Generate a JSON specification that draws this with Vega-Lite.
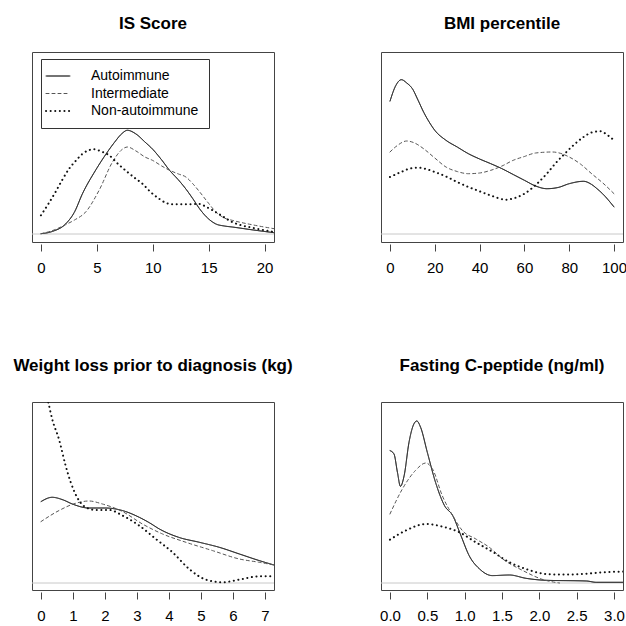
{
  "$schema": "https://vega.github.io/schema/vega-lite/v6.json",
  "background": "white",
  "padding": {"left": 12, "top": 14, "right": 0, "bottom": 0},
  "config": {
    "view": {"stroke": "#444", "strokeWidth": 1},
    "font": "Liberation Sans",
    "title": {"fontSize": 17, "fontWeight": "bold", "color": "#000", "baseline": "alphabetic", "anchor": "middle", "font": "Liberation Sans"},
    "axis": {"domain": false, "grid": false, "ticks": true, "tickColor": "#444", "tickSize": 7, "offset": 2, "labelFontSize": 15, "labelColor": "#000", "labelPadding": 9, "labelFont": "Liberation Sans", "labelFlush": false, "labelOverlap": false, "title": null}
  },
  "data": {"values": [
    {"panel": "IS", "group": "Autoimmune", "x": 0, "y": 0.3},
    {"panel": "IS", "group": "Autoimmune", "x": 1, "y": 2.5},
    {"panel": "IS", "group": "Autoimmune", "x": 2.2, "y": 10},
    {"panel": "IS", "group": "Autoimmune", "x": 3, "y": 22},
    {"panel": "IS", "group": "Autoimmune", "x": 3.7, "y": 40},
    {"panel": "IS", "group": "Autoimmune", "x": 4.9, "y": 64},
    {"panel": "IS", "group": "Autoimmune", "x": 5.64, "y": 77},
    {"panel": "IS", "group": "Autoimmune", "x": 6.6, "y": 92},
    {"panel": "IS", "group": "Autoimmune", "x": 7.2, "y": 100},
    {"panel": "IS", "group": "Autoimmune", "x": 7.73, "y": 103.7},
    {"panel": "IS", "group": "Autoimmune", "x": 8.5, "y": 100},
    {"panel": "IS", "group": "Autoimmune", "x": 9.3, "y": 92},
    {"panel": "IS", "group": "Autoimmune", "x": 9.97, "y": 85},
    {"panel": "IS", "group": "Autoimmune", "x": 10.8, "y": 74},
    {"panel": "IS", "group": "Autoimmune", "x": 11.5, "y": 63.7},
    {"panel": "IS", "group": "Autoimmune", "x": 12.3, "y": 54},
    {"panel": "IS", "group": "Autoimmune", "x": 12.96, "y": 45},
    {"panel": "IS", "group": "Autoimmune", "x": 13.6, "y": 35},
    {"panel": "IS", "group": "Autoimmune", "x": 14.2, "y": 25},
    {"panel": "IS", "group": "Autoimmune", "x": 14.9, "y": 16},
    {"panel": "IS", "group": "Autoimmune", "x": 15.65, "y": 10},
    {"panel": "IS", "group": "Autoimmune", "x": 16.4, "y": 8},
    {"panel": "IS", "group": "Autoimmune", "x": 17.1, "y": 7},
    {"panel": "IS", "group": "Autoimmune", "x": 19, "y": 4},
    {"panel": "IS", "group": "Autoimmune", "x": 20.85, "y": 1.3},
    {"panel": "IS", "group": "Intermediate", "x": 0, "y": 0.3},
    {"panel": "IS", "group": "Intermediate", "x": 1, "y": 3.3},
    {"panel": "IS", "group": "Intermediate", "x": 2.2, "y": 9.3},
    {"panel": "IS", "group": "Intermediate", "x": 3, "y": 14},
    {"panel": "IS", "group": "Intermediate", "x": 4, "y": 22},
    {"panel": "IS", "group": "Intermediate", "x": 5.2, "y": 43.7},
    {"panel": "IS", "group": "Intermediate", "x": 6.4, "y": 72},
    {"panel": "IS", "group": "Intermediate", "x": 7.2, "y": 84},
    {"panel": "IS", "group": "Intermediate", "x": 7.73, "y": 87},
    {"panel": "IS", "group": "Intermediate", "x": 8.5, "y": 83},
    {"panel": "IS", "group": "Intermediate", "x": 9.3, "y": 77},
    {"panel": "IS", "group": "Intermediate", "x": 9.97, "y": 73.7},
    {"panel": "IS", "group": "Intermediate", "x": 10.8, "y": 68},
    {"panel": "IS", "group": "Intermediate", "x": 11.5, "y": 63.7},
    {"panel": "IS", "group": "Intermediate", "x": 12.3, "y": 60},
    {"panel": "IS", "group": "Intermediate", "x": 12.96, "y": 57},
    {"panel": "IS", "group": "Intermediate", "x": 13.6, "y": 50},
    {"panel": "IS", "group": "Intermediate", "x": 14.2, "y": 42},
    {"panel": "IS", "group": "Intermediate", "x": 14.9, "y": 32},
    {"panel": "IS", "group": "Intermediate", "x": 15.65, "y": 22},
    {"panel": "IS", "group": "Intermediate", "x": 16.4, "y": 16},
    {"panel": "IS", "group": "Intermediate", "x": 17.1, "y": 13.7},
    {"panel": "IS", "group": "Intermediate", "x": 19, "y": 9},
    {"panel": "IS", "group": "Intermediate", "x": 20.85, "y": 5.3},
    {"panel": "IS", "group": "Non-autoimmune", "x": 0, "y": 18.7},
    {"panel": "IS", "group": "Non-autoimmune", "x": 0.6, "y": 29},
    {"panel": "IS", "group": "Non-autoimmune", "x": 1.3, "y": 42},
    {"panel": "IS", "group": "Non-autoimmune", "x": 1.9, "y": 54},
    {"panel": "IS", "group": "Non-autoimmune", "x": 2.5, "y": 65},
    {"panel": "IS", "group": "Non-autoimmune", "x": 3.1, "y": 73},
    {"panel": "IS", "group": "Non-autoimmune", "x": 3.7, "y": 80},
    {"panel": "IS", "group": "Non-autoimmune", "x": 4.2, "y": 83.5},
    {"panel": "IS", "group": "Non-autoimmune", "x": 4.75, "y": 84.7},
    {"panel": "IS", "group": "Non-autoimmune", "x": 5.4, "y": 82.5},
    {"panel": "IS", "group": "Non-autoimmune", "x": 6.1, "y": 78.7},
    {"panel": "IS", "group": "Non-autoimmune", "x": 6.9, "y": 70},
    {"panel": "IS", "group": "Non-autoimmune", "x": 7.73, "y": 62},
    {"panel": "IS", "group": "Non-autoimmune", "x": 8.4, "y": 56},
    {"panel": "IS", "group": "Non-autoimmune", "x": 9.1, "y": 50},
    {"panel": "IS", "group": "Non-autoimmune", "x": 9.8, "y": 42},
    {"panel": "IS", "group": "Non-autoimmune", "x": 10.6, "y": 35},
    {"panel": "IS", "group": "Non-autoimmune", "x": 11.2, "y": 31},
    {"panel": "IS", "group": "Non-autoimmune", "x": 11.8, "y": 29.7},
    {"panel": "IS", "group": "Non-autoimmune", "x": 12.96, "y": 29.7},
    {"panel": "IS", "group": "Non-autoimmune", "x": 14.2, "y": 30},
    {"panel": "IS", "group": "Non-autoimmune", "x": 14.8, "y": 27},
    {"panel": "IS", "group": "Non-autoimmune", "x": 15.35, "y": 23.7},
    {"panel": "IS", "group": "Non-autoimmune", "x": 16.2, "y": 18},
    {"panel": "IS", "group": "Non-autoimmune", "x": 17.1, "y": 12},
    {"panel": "IS", "group": "Non-autoimmune", "x": 19, "y": 6},
    {"panel": "IS", "group": "Non-autoimmune", "x": 20.85, "y": 2},

    {"panel": "BMI", "group": "Autoimmune", "x": 0, "y": 132.7},
    {"panel": "BMI", "group": "Autoimmune", "x": 2.5, "y": 148},
    {"panel": "BMI", "group": "Autoimmune", "x": 5.1, "y": 154.3},
    {"panel": "BMI", "group": "Autoimmune", "x": 7.5, "y": 151},
    {"panel": "BMI", "group": "Autoimmune", "x": 10, "y": 145.3},
    {"panel": "BMI", "group": "Autoimmune", "x": 12.5, "y": 134},
    {"panel": "BMI", "group": "Autoimmune", "x": 15, "y": 122},
    {"panel": "BMI", "group": "Autoimmune", "x": 17.5, "y": 112},
    {"panel": "BMI", "group": "Autoimmune", "x": 20, "y": 103.7},
    {"panel": "BMI", "group": "Autoimmune", "x": 25, "y": 93.7},
    {"panel": "BMI", "group": "Autoimmune", "x": 30, "y": 87},
    {"panel": "BMI", "group": "Autoimmune", "x": 35, "y": 80.3},
    {"panel": "BMI", "group": "Autoimmune", "x": 40, "y": 75},
    {"panel": "BMI", "group": "Autoimmune", "x": 45, "y": 70.3},
    {"panel": "BMI", "group": "Autoimmune", "x": 50, "y": 65.3},
    {"panel": "BMI", "group": "Autoimmune", "x": 55, "y": 59.5},
    {"panel": "BMI", "group": "Autoimmune", "x": 60, "y": 53.7},
    {"panel": "BMI", "group": "Autoimmune", "x": 65, "y": 48},
    {"panel": "BMI", "group": "Autoimmune", "x": 70, "y": 45.3},
    {"panel": "BMI", "group": "Autoimmune", "x": 75, "y": 46.5},
    {"panel": "BMI", "group": "Autoimmune", "x": 80, "y": 50.3},
    {"panel": "BMI", "group": "Autoimmune", "x": 86.4, "y": 52.7},
    {"panel": "BMI", "group": "Autoimmune", "x": 90, "y": 49.5},
    {"panel": "BMI", "group": "Autoimmune", "x": 92.4, "y": 45.3},
    {"panel": "BMI", "group": "Autoimmune", "x": 95, "y": 40},
    {"panel": "BMI", "group": "Autoimmune", "x": 100, "y": 27},
    {"panel": "BMI", "group": "Intermediate", "x": 0, "y": 82},
    {"panel": "BMI", "group": "Intermediate", "x": 3, "y": 88},
    {"panel": "BMI", "group": "Intermediate", "x": 7.5, "y": 93},
    {"panel": "BMI", "group": "Intermediate", "x": 11, "y": 91},
    {"panel": "BMI", "group": "Intermediate", "x": 15, "y": 85.3},
    {"panel": "BMI", "group": "Intermediate", "x": 20, "y": 76},
    {"panel": "BMI", "group": "Intermediate", "x": 25, "y": 67},
    {"panel": "BMI", "group": "Intermediate", "x": 30, "y": 62.5},
    {"panel": "BMI", "group": "Intermediate", "x": 35, "y": 60.3},
    {"panel": "BMI", "group": "Intermediate", "x": 40, "y": 61},
    {"panel": "BMI", "group": "Intermediate", "x": 45, "y": 63.7},
    {"panel": "BMI", "group": "Intermediate", "x": 50, "y": 68},
    {"panel": "BMI", "group": "Intermediate", "x": 55, "y": 73.7},
    {"panel": "BMI", "group": "Intermediate", "x": 60, "y": 77.5},
    {"panel": "BMI", "group": "Intermediate", "x": 65, "y": 81},
    {"panel": "BMI", "group": "Intermediate", "x": 72.5, "y": 82},
    {"panel": "BMI", "group": "Intermediate", "x": 77, "y": 80},
    {"panel": "BMI", "group": "Intermediate", "x": 80, "y": 77},
    {"panel": "BMI", "group": "Intermediate", "x": 85, "y": 70},
    {"panel": "BMI", "group": "Intermediate", "x": 90, "y": 60.3},
    {"panel": "BMI", "group": "Intermediate", "x": 95, "y": 51},
    {"panel": "BMI", "group": "Intermediate", "x": 100, "y": 40.3},
    {"panel": "BMI", "group": "Non-autoimmune", "x": 0, "y": 57},
    {"panel": "BMI", "group": "Non-autoimmune", "x": 5, "y": 62},
    {"panel": "BMI", "group": "Non-autoimmune", "x": 9, "y": 65.5},
    {"panel": "BMI", "group": "Non-autoimmune", "x": 12.6, "y": 66.3},
    {"panel": "BMI", "group": "Non-autoimmune", "x": 16, "y": 65},
    {"panel": "BMI", "group": "Non-autoimmune", "x": 20, "y": 62},
    {"panel": "BMI", "group": "Non-autoimmune", "x": 25, "y": 57.5},
    {"panel": "BMI", "group": "Non-autoimmune", "x": 30, "y": 52},
    {"panel": "BMI", "group": "Non-autoimmune", "x": 35, "y": 47},
    {"panel": "BMI", "group": "Non-autoimmune", "x": 40, "y": 42.7},
    {"panel": "BMI", "group": "Non-autoimmune", "x": 45, "y": 38.5},
    {"panel": "BMI", "group": "Non-autoimmune", "x": 52, "y": 34.3},
    {"panel": "BMI", "group": "Non-autoimmune", "x": 55, "y": 35.5},
    {"panel": "BMI", "group": "Non-autoimmune", "x": 57, "y": 37},
    {"panel": "BMI", "group": "Non-autoimmune", "x": 60, "y": 40.3},
    {"panel": "BMI", "group": "Non-autoimmune", "x": 65, "y": 49},
    {"panel": "BMI", "group": "Non-autoimmune", "x": 70, "y": 60.3},
    {"panel": "BMI", "group": "Non-autoimmune", "x": 74, "y": 71},
    {"panel": "BMI", "group": "Non-autoimmune", "x": 78, "y": 80.3},
    {"panel": "BMI", "group": "Non-autoimmune", "x": 82, "y": 89},
    {"panel": "BMI", "group": "Non-autoimmune", "x": 86.4, "y": 97},
    {"panel": "BMI", "group": "Non-autoimmune", "x": 90, "y": 101.5},
    {"panel": "BMI", "group": "Non-autoimmune", "x": 94, "y": 102.7},
    {"panel": "BMI", "group": "Non-autoimmune", "x": 97, "y": 99},
    {"panel": "BMI", "group": "Non-autoimmune", "x": 100, "y": 93.7},

    {"panel": "WL", "group": "Autoimmune", "x": 0, "y": 81.4},
    {"panel": "WL", "group": "Autoimmune", "x": 0.35, "y": 85.7},
    {"panel": "WL", "group": "Autoimmune", "x": 0.7, "y": 83},
    {"panel": "WL", "group": "Autoimmune", "x": 0.98, "y": 79},
    {"panel": "WL", "group": "Autoimmune", "x": 1.5, "y": 75},
    {"panel": "WL", "group": "Autoimmune", "x": 2.0, "y": 75},
    {"panel": "WL", "group": "Autoimmune", "x": 2.55, "y": 72.4},
    {"panel": "WL", "group": "Autoimmune", "x": 3.07, "y": 65.7},
    {"panel": "WL", "group": "Autoimmune", "x": 3.4, "y": 60},
    {"panel": "WL", "group": "Autoimmune", "x": 3.7, "y": 54},
    {"panel": "WL", "group": "Autoimmune", "x": 4.3, "y": 45.7},
    {"panel": "WL", "group": "Autoimmune", "x": 4.95, "y": 40.7},
    {"panel": "WL", "group": "Autoimmune", "x": 5.57, "y": 35.7},
    {"panel": "WL", "group": "Autoimmune", "x": 6.2, "y": 29},
    {"panel": "WL", "group": "Autoimmune", "x": 6.82, "y": 22.4},
    {"panel": "WL", "group": "Autoimmune", "x": 7.28, "y": 18},
    {"panel": "WL", "group": "Intermediate", "x": 0, "y": 61.4},
    {"panel": "WL", "group": "Intermediate", "x": 0.56, "y": 72.4},
    {"panel": "WL", "group": "Intermediate", "x": 1.08, "y": 79.7},
    {"panel": "WL", "group": "Intermediate", "x": 1.5, "y": 82},
    {"panel": "WL", "group": "Intermediate", "x": 1.92, "y": 79},
    {"panel": "WL", "group": "Intermediate", "x": 2.55, "y": 71.4},
    {"panel": "WL", "group": "Intermediate", "x": 3.17, "y": 59},
    {"panel": "WL", "group": "Intermediate", "x": 3.8, "y": 49},
    {"panel": "WL", "group": "Intermediate", "x": 4.53, "y": 40.7},
    {"panel": "WL", "group": "Intermediate", "x": 5.36, "y": 32.4},
    {"panel": "WL", "group": "Intermediate", "x": 6.2, "y": 24},
    {"panel": "WL", "group": "Intermediate", "x": 6.82, "y": 20.7},
    {"panel": "WL", "group": "Intermediate", "x": 7.28, "y": 18},
    {"panel": "WL", "group": "Non-autoimmune", "x": 0, "y": 212},
    {"panel": "WL", "group": "Non-autoimmune", "x": 0.23, "y": 180.7},
    {"panel": "WL", "group": "Non-autoimmune", "x": 0.35, "y": 164},
    {"panel": "WL", "group": "Non-autoimmune", "x": 0.56, "y": 144},
    {"panel": "WL", "group": "Non-autoimmune", "x": 0.77, "y": 117.4},
    {"panel": "WL", "group": "Non-autoimmune", "x": 0.93, "y": 100.7},
    {"panel": "WL", "group": "Non-autoimmune", "x": 1.19, "y": 82.4},
    {"panel": "WL", "group": "Non-autoimmune", "x": 1.4, "y": 75.7},
    {"panel": "WL", "group": "Non-autoimmune", "x": 1.71, "y": 73},
    {"panel": "WL", "group": "Non-autoimmune", "x": 2.13, "y": 73},
    {"panel": "WL", "group": "Non-autoimmune", "x": 2.55, "y": 67.4},
    {"panel": "WL", "group": "Non-autoimmune", "x": 3.07, "y": 57.4},
    {"panel": "WL", "group": "Non-autoimmune", "x": 3.59, "y": 44},
    {"panel": "WL", "group": "Non-autoimmune", "x": 4.11, "y": 30.7},
    {"panel": "WL", "group": "Non-autoimmune", "x": 4.63, "y": 14},
    {"panel": "WL", "group": "Non-autoimmune", "x": 5.15, "y": 3.4},
    {"panel": "WL", "group": "Non-autoimmune", "x": 5.67, "y": 0.7},
    {"panel": "WL", "group": "Non-autoimmune", "x": 6.2, "y": 3.4},
    {"panel": "WL", "group": "Non-autoimmune", "x": 6.82, "y": 6.7},
    {"panel": "WL", "group": "Non-autoimmune", "x": 7.28, "y": 6.7},

    {"panel": "CP", "group": "Autoimmune", "x": 0, "y": 132.4},
    {"panel": "CP", "group": "Autoimmune", "x": 0.054, "y": 129},
    {"panel": "CP", "group": "Autoimmune", "x": 0.1, "y": 110.7},
    {"panel": "CP", "group": "Autoimmune", "x": 0.14, "y": 96.7},
    {"panel": "CP", "group": "Autoimmune", "x": 0.19, "y": 107.4},
    {"panel": "CP", "group": "Autoimmune", "x": 0.255, "y": 140.7},
    {"panel": "CP", "group": "Autoimmune", "x": 0.32, "y": 159},
    {"panel": "CP", "group": "Autoimmune", "x": 0.36, "y": 162},
    {"panel": "CP", "group": "Autoimmune", "x": 0.41, "y": 155.7},
    {"panel": "CP", "group": "Autoimmune", "x": 0.5, "y": 130.7},
    {"panel": "CP", "group": "Autoimmune", "x": 0.61, "y": 100.7},
    {"panel": "CP", "group": "Autoimmune", "x": 0.73, "y": 77.4},
    {"panel": "CP", "group": "Autoimmune", "x": 0.84, "y": 67.4},
    {"panel": "CP", "group": "Autoimmune", "x": 0.95, "y": 47.4},
    {"panel": "CP", "group": "Autoimmune", "x": 1.06, "y": 27.4},
    {"panel": "CP", "group": "Autoimmune", "x": 1.2, "y": 14},
    {"panel": "CP", "group": "Autoimmune", "x": 1.37, "y": 7.4},
    {"panel": "CP", "group": "Autoimmune", "x": 1.6, "y": 8},
    {"panel": "CP", "group": "Autoimmune", "x": 1.82, "y": 4.7},
    {"panel": "CP", "group": "Autoimmune", "x": 2.09, "y": 2.7},
    {"panel": "CP", "group": "Autoimmune", "x": 2.63, "y": 2},
    {"panel": "CP", "group": "Autoimmune", "x": 2.76, "y": 0.7},
    {"panel": "CP", "group": "Autoimmune", "x": 3.13, "y": 0.7},
    {"panel": "CP", "group": "Intermediate", "x": 0, "y": 69},
    {"panel": "CP", "group": "Intermediate", "x": 0.166, "y": 94},
    {"panel": "CP", "group": "Intermediate", "x": 0.34, "y": 112.4},
    {"panel": "CP", "group": "Intermediate", "x": 0.48, "y": 120},
    {"panel": "CP", "group": "Intermediate", "x": 0.57, "y": 114},
    {"panel": "CP", "group": "Intermediate", "x": 0.7, "y": 87.4},
    {"panel": "CP", "group": "Intermediate", "x": 0.84, "y": 67.4},
    {"panel": "CP", "group": "Intermediate", "x": 0.97, "y": 52.4},
    {"panel": "CP", "group": "Intermediate", "x": 1.15, "y": 44},
    {"panel": "CP", "group": "Intermediate", "x": 1.33, "y": 35.7},
    {"panel": "CP", "group": "Intermediate", "x": 1.51, "y": 24},
    {"panel": "CP", "group": "Intermediate", "x": 1.78, "y": 12.4},
    {"panel": "CP", "group": "Intermediate", "x": 2.05, "y": 3.4},
    {"panel": "CP", "group": "Intermediate", "x": 2.27, "y": 0},
    {"panel": "CP", "group": "Non-autoimmune", "x": 0, "y": 43.4},
    {"panel": "CP", "group": "Non-autoimmune", "x": 0.21, "y": 52.4},
    {"panel": "CP", "group": "Non-autoimmune", "x": 0.48, "y": 59},
    {"panel": "CP", "group": "Non-autoimmune", "x": 0.7, "y": 56.4},
    {"panel": "CP", "group": "Non-autoimmune", "x": 0.93, "y": 50.7},
    {"panel": "CP", "group": "Non-autoimmune", "x": 1.15, "y": 40.7},
    {"panel": "CP", "group": "Non-autoimmune", "x": 1.37, "y": 31.4},
    {"panel": "CP", "group": "Non-autoimmune", "x": 1.6, "y": 20.7},
    {"panel": "CP", "group": "Non-autoimmune", "x": 1.82, "y": 14},
    {"panel": "CP", "group": "Non-autoimmune", "x": 2.09, "y": 9},
    {"panel": "CP", "group": "Non-autoimmune", "x": 2.32, "y": 8.4},
    {"panel": "CP", "group": "Non-autoimmune", "x": 2.58, "y": 9},
    {"panel": "CP", "group": "Non-autoimmune", "x": 2.85, "y": 10.7},
    {"panel": "CP", "group": "Non-autoimmune", "x": 3.13, "y": 11.4}
  ]},
  "columns": 2,
  "spacing": {"row": 160, "column": 107},
  "bounds": "flush",
  "resolve": {"scale": {"x": "independent", "y": "independent", "strokeDash": "independent", "color": "independent"}, "legend": {"strokeDash": "independent", "color": "independent"}},
  "concat": [
    {
      "width": 242, "height": 190,
      "title": {"text": "IS Score", "offset": 19},
      "layer": [
        {"data": {"values": [{}]}, "mark": {"type": "rule", "color": "#c8c8c8", "strokeWidth": 1}, "encoding": {"y": {"datum": 0, "type": "quantitative"}}},
        {"transform": [{"filter": "datum.panel === 'IS'"}],
         "mark": {"type": "line", "clip": true, "strokeCap": "round", "interpolate": "monotone"},
         "encoding": {
           "x": {"field": "x", "type": "quantitative", "scale": {"domain": [-0.8, 20.84], "nice": false, "zero": false}, "axis": {"values": [0, 5, 10, 15, 20]}},
           "y": {"field": "y", "type": "quantitative", "scale": {"domain": [-8, 182], "nice": false, "zero": false}, "axis": null},
           "strokeDash": {"field": "group", "type": "nominal", "scale": {"domain": ["Autoimmune", "Intermediate", "Non-autoimmune"], "range": [[1, 0], [3, 3], [0.1, 4.5]]},
             "legend": {"title": null, "orient": "none", "legendX": 9, "legendY": 7, "strokeColor": "#333", "fillColor": "white", "padding": 10, "labelFontSize": 14, "labelFont": "Liberation Sans", "labelColor": "#000", "symbolType": "stroke", "symbolSize": 576, "labelOffset": 26, "rowPadding": 3.5,
               "encode": {"symbols": {"update": {"strokeWidth": {"signal": "datum.value === 'Non-autoimmune' ? 2 : 1"}, "strokeCap": {"value": "round"}}}}}},
           "color": {"field": "group", "type": "nominal", "scale": {"domain": ["Autoimmune", "Intermediate", "Non-autoimmune"], "range": ["#333333", "#555555", "#111111"]},
             "legend": {"title": null, "orient": "none", "legendX": 9, "legendY": 7, "strokeColor": "#333", "fillColor": "white", "padding": 10, "labelFontSize": 14, "labelFont": "Liberation Sans", "labelColor": "#000", "symbolType": "stroke", "symbolSize": 576, "labelOffset": 26, "rowPadding": 3.5,
               "encode": {"symbols": {"update": {"strokeWidth": {"signal": "datum.value === 'Non-autoimmune' ? 2 : 1"}, "strokeCap": {"value": "round"}}}}}},
           "strokeWidth": {"condition": {"test": "datum.group === 'Non-autoimmune'", "value": 2}, "value": 1}
         }}
      ]
    },
    {
      "width": 242, "height": 190,
      "title": {"text": "BMI percentile", "offset": 19},
      "layer": [
        {"data": {"values": [{}]}, "mark": {"type": "rule", "color": "#c8c8c8", "strokeWidth": 1}, "encoding": {"y": {"datum": 0, "type": "quantitative"}}},
        {"transform": [{"filter": "datum.panel === 'BMI'"}],
         "mark": {"type": "line", "clip": true, "strokeCap": "round", "interpolate": "monotone"},
         "encoding": {
           "x": {"field": "x", "type": "quantitative", "scale": {"domain": [-4, 104], "nice": false, "zero": false}, "axis": {"values": [0, 20, 40, 60, 80, 100]}},
           "y": {"field": "y", "type": "quantitative", "scale": {"domain": [-8, 182], "nice": false, "zero": false}, "axis": null},
           "strokeDash": {"field": "group", "type": "nominal", "scale": {"domain": ["Autoimmune", "Intermediate", "Non-autoimmune"], "range": [[1, 0], [3, 3], [0.1, 4.5]]}, "legend": null},
           "color": {"field": "group", "type": "nominal", "scale": {"domain": ["Autoimmune", "Intermediate", "Non-autoimmune"], "range": ["#333333", "#555555", "#111111"]}, "legend": null},
           "strokeWidth": {"condition": {"test": "datum.group === 'Non-autoimmune'", "value": 2}, "value": 1}
         }}
      ]
    },
    {
      "width": 242, "height": 188,
      "title": {"text": "Weight loss prior to diagnosis (kg)", "offset": 27},
      "layer": [
        {"data": {"values": [{}]}, "mark": {"type": "rule", "color": "#c8c8c8", "strokeWidth": 1}, "encoding": {"y": {"datum": 0, "type": "quantitative"}}},
        {"transform": [{"filter": "datum.panel === 'WL'"}],
         "mark": {"type": "line", "clip": true, "strokeCap": "round", "interpolate": "monotone"},
         "encoding": {
           "x": {"field": "x", "type": "quantitative", "scale": {"domain": [-0.28, 7.28], "nice": false, "zero": false}, "axis": {"values": [0, 1, 2, 3, 4, 5, 6, 7]}},
           "y": {"field": "y", "type": "quantitative", "scale": {"domain": [-7, 181], "nice": false, "zero": false}, "axis": null},
           "strokeDash": {"field": "group", "type": "nominal", "scale": {"domain": ["Autoimmune", "Intermediate", "Non-autoimmune"], "range": [[1, 0], [3, 3], [0.1, 4.5]]}, "legend": null},
           "color": {"field": "group", "type": "nominal", "scale": {"domain": ["Autoimmune", "Intermediate", "Non-autoimmune"], "range": ["#333333", "#555555", "#111111"]}, "legend": null},
           "strokeWidth": {"condition": {"test": "datum.group === 'Non-autoimmune'", "value": 2}, "value": 1}
         }}
      ]
    },
    {
      "width": 242, "height": 188,
      "title": {"text": "Fasting C-peptide (ng/ml)", "offset": 27},
      "layer": [
        {"data": {"values": [{}]}, "mark": {"type": "rule", "color": "#c8c8c8", "strokeWidth": 1}, "encoding": {"y": {"datum": 0, "type": "quantitative"}}},
        {"transform": [{"filter": "datum.panel === 'CP'"}],
         "mark": {"type": "line", "clip": true, "strokeCap": "round", "interpolate": "monotone"},
         "encoding": {
           "x": {"field": "x", "type": "quantitative", "scale": {"domain": [-0.12, 3.12], "nice": false, "zero": false}, "axis": {"values": [0, 0.5, 1, 1.5, 2, 2.5, 3], "format": ".1f"}},
           "y": {"field": "y", "type": "quantitative", "scale": {"domain": [-7, 181], "nice": false, "zero": false}, "axis": null},
           "strokeDash": {"field": "group", "type": "nominal", "scale": {"domain": ["Autoimmune", "Intermediate", "Non-autoimmune"], "range": [[1, 0], [3, 3], [0.1, 4.5]]}, "legend": null},
           "color": {"field": "group", "type": "nominal", "scale": {"domain": ["Autoimmune", "Intermediate", "Non-autoimmune"], "range": ["#333333", "#555555", "#111111"]}, "legend": null},
           "strokeWidth": {"condition": {"test": "datum.group === 'Non-autoimmune'", "value": 2}, "value": 1}
         }}
      ]
    }
  ]
}
